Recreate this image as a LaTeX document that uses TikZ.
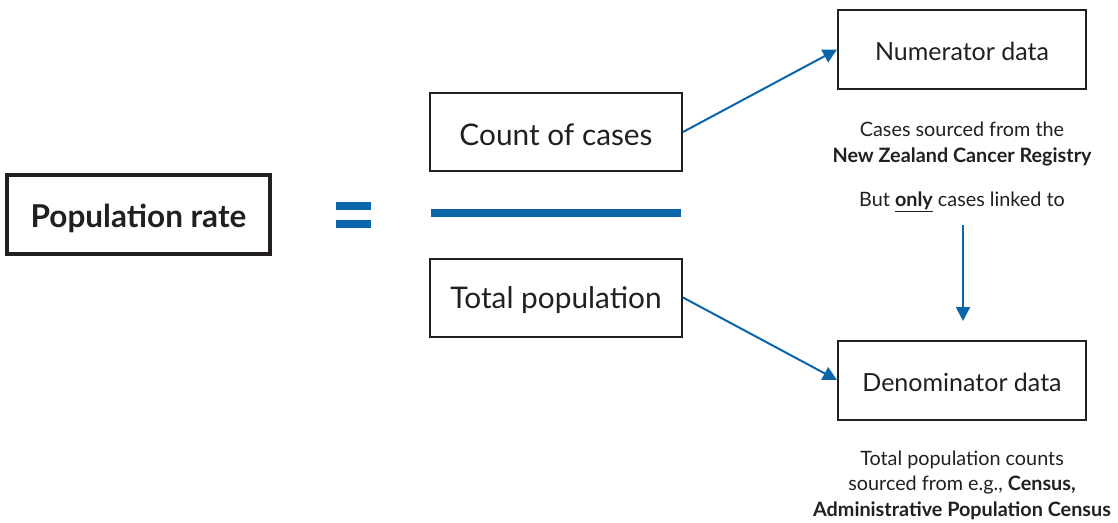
\documentclass[tikz,border=0pt]{standalone}
\usepackage{fontspec}
\setmainfont{Lato}
\usetikzlibrary{arrows.meta}
\definecolor{ink}{HTML}{231F20}
\definecolor{nzblue}{HTML}{0A66AA}
\newcommand{\lowerby}[2]{\raisebox{-#1}[\height][\depth]{#2}}
\tikzset{
  box/.style={draw=ink, line width=2pt, minimum height=78pt, inner sep=0pt, text=ink},
  bigbox/.style={box, minimum width=252pt, font=\fontsize{29.8}{34}\selectfont},
  databox/.style={box, minimum width=248pt, minimum height=79pt, font=\fontsize{25}{30}\selectfont},
  note/.style={text=ink, align=center, font=\fontsize{19.8}{25.5}\selectfont},
  link/.style={draw=nzblue, line width=2pt, -{Triangle[length=14pt,width=14pt]}},
  bar/.style={fill=nzblue, draw=none}
}
\begin{document}
\begin{tikzpicture}[x=1pt,y=-1pt]
\useasboundingbox (0,0) rectangle (1118,522);
\node[draw=ink, line width=4pt, minimum width=263pt, minimum height=79pt, text=ink, font=\bfseries\fontsize{31.5}{36}\selectfont] (rate) at (138.5,214.5) {\lowerby{4pt}{Population rate}};
\fill[bar] (336,202) rectangle (371,210);
\fill[bar] (336,220) rectangle (371,228);
\node[bigbox] (count) at (556,132) {\lowerby{2.5pt}{Count of cases}};
\fill[bar] (431,209) rectangle (681,217);
\node[bigbox] (total) at (556,297.5) {\lowerby{3pt}{Total population}};
\node[databox] (num) at (962,49.5) {\lowerby{2pt}{Numerator data}};
\node[databox] (den) at (962,380) {\lowerby{2pt}{Denominator data}};
\node[note] (numnote) at (962,144) {Cases sourced from the\\ \textbf{New Zealand Cancer Registry}};
\node[note] (but) at (962,202) {But \underline{\textbf{only}} cases linked to};
\coordinate (vtop) at (963,225);
\coordinate (vbot) at (963,321);
\node[note] (dennote) at (962,485) {Total population counts\\ sourced from e.g., \textbf{Census,}\\ \textbf{Administrative Population Census}};
\draw[link] (count.east) -- (num.west);
\draw[link] (total.east) -- (den.west);
\draw[link] (vtop) -- (vbot);
\end{tikzpicture}
\end{document}
